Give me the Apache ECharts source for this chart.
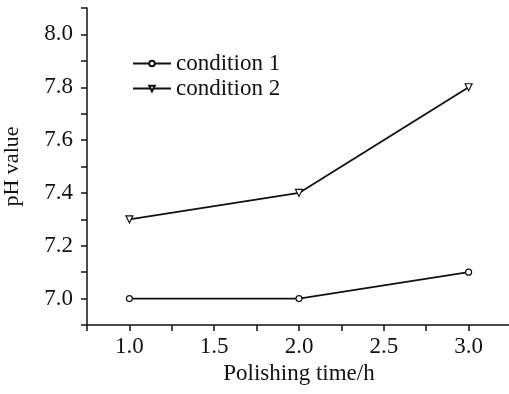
<!DOCTYPE html>
<html>
<head>
<meta charset="utf-8">
<script src="https://cdn.jsdelivr.net/npm/echarts@6/dist/echarts.min.js"></script>
<style>
  html, body { margin: 0; padding: 0; background: #fff; }
  #chart { width: 509px; height: 394px; }
</style>
</head>
<body>
<div id="chart"></div>
<script>
const polishingTime = [1.0, 2.0, 3.0];
const condition1 = [7.0, 7.0, 7.1];
const condition2 = [7.3, 7.4, 7.8];
const seriesNames = ["condition 1", "condition 2"];

const font = "'Liberation Serif', 'Times New Roman', serif";
const ink = "#111";

const chart = echarts.init(document.getElementById("chart"));

const toPairs = (values) => polishingTime.map((x, i) => [x, values[i]]);

chart.setOption({
  animation: false,
  backgroundColor: "#fff",
  grid: { left: 87, right: -2, top: 8, bottom: 69, outerBoundsMode: "none" },
  legend: {
    left: 127,
    top: 47,
    orient: "vertical",
    itemGap: 2,
    itemWidth: 38,
    itemHeight: 7,
    textStyle: { fontFamily: font, fontSize: 23, color: ink },
    data: seriesNames,
  },
  xAxis: {
    type: "value",
    min: 0.75,
    max: 3.25,
    interval: 0.25,
    name: "Polishing time/h",
    nameLocation: "middle",
    nameGap: 31,
    nameTextStyle: { fontFamily: font, fontSize: 23, color: ink },
    splitLine: { show: false },
    axisLine: { lineStyle: { color: ink, width: 1.5 } },
    axisTick: { length: 6, lineStyle: { color: ink, width: 1.5 } },
    axisLabel: {
      margin: 10,
      fontFamily: font,
      fontSize: 23,
      color: ink,
      formatter: (v) => (Math.round(v * 4) % 2 === 0 ? v.toFixed(1) : ""),
    },
  },
  yAxis: {
    type: "value",
    min: 6.9,
    max: 8.1,
    interval: 0.1,
    name: "pH value",
    nameLocation: "middle",
    nameGap: 64,
    nameTextStyle: { fontFamily: font, fontSize: 22, color: ink },
    splitLine: { show: false },
    axisLine: { show: true, lineStyle: { color: ink, width: 1.5 } },
    axisTick: { show: true, length: 6, lineStyle: { color: ink, width: 1.5 } },
    axisLabel: {
      margin: 14,
      fontFamily: font,
      fontSize: 23,
      color: ink,
      formatter: (v) => (Math.round(v * 10) % 2 === 0 ? v.toFixed(1) : ""),
    },
  },
  series: [
    {
      name: seriesNames[0],
      type: "line",
      data: toPairs(condition1),
      symbol: "circle",
      symbolSize: 6,
      color: ink,
      lineStyle: { color: ink, width: 1.8 },
      itemStyle: { color: "#fff", borderColor: ink, borderWidth: 1.2 },
    },
    {
      name: seriesNames[1],
      type: "line",
      data: toPairs(condition2),
      symbol: "triangle",
      symbolRotate: 180,
      symbolSize: 7,
      color: ink,
      lineStyle: { color: ink, width: 1.8 },
      itemStyle: { color: "#fff", borderColor: ink, borderWidth: 1.2 },
    },
  ],
});
</script>
</body>
</html>
